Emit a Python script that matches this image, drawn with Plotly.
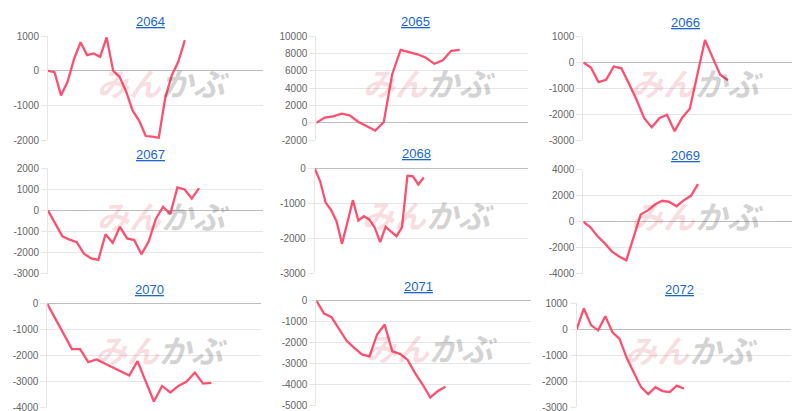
import plotly.graph_objects as go

# ---------------- data ----------------
codes = ["2064", "2065", "2066", "2067", "2068", "2069", "2070", "2071", "2072"]

v2064 = [0, -40, -710, -320, 340, 820, 450, 500, 400, 960, 0, -180, -600, -1150,
         -1440, -1880, -1900, -1930, -780, -130, 260, 880]
v2065 = [0, 600, 750, 1050, 850, 100, -400, -900, 100, 5600, 8400, 8150, 7900,
         7500, 6800, 7200, 8300, 8400]
v2066 = [0, -190, -750, -660, -150, -220, -810, -1430, -2140, -2490, -2140, -2010,
         -2640, -2120, -1780, -450, 870, 190, -470, -680]
v2067 = [0, -580, -1220, -1380, -1500, -2040, -2270, -2340, -1120, -1530, -770,
         -1320, -1400, -2070, -1470, -400, 180, -170, 1100, 1000, 570, 1060]
v2068 = [0, -370, -980, -1190, -1510, -2160, -1540, -910, -1490, -1370, -1460,
         -1690, -2110, -1670, -1810, -1940, -1690, -210, -230, -460, -260]
v2069 = [0, -420, -1120, -1660, -2290, -2660, -2960, -1200, 550, 870, 1320, 1610,
         1520, 1190, 1640, 1990, 2880]
v2070 = [0, -570, -1160, -1750, -1750, -2250, -2150, -2310, -2460, -2620, -2770,
         -2210, -2960, -3770, -3170, -3420, -3170, -3000, -2650, -3080, -3050]
v2071 = [0, -620, -800, -1380, -1920, -2260, -2570, -2660, -1620, -1150, -2420,
         -2540, -2820, -3460, -4000, -4620, -4310, -4110]
v2072 = [0, 800, 160, -40, 500, -120, -370, -1110, -1670, -2230, -2500, -2230,
         -2380, -2420, -2170, -2290]

t2064 = [-2000, -1000, 0, 1000]
t2065 = [-2000, 0, 2000, 4000, 6000, 8000, 10000]
t2066 = [-3000, -2000, -1000, 0, 1000]
t2067 = [-3000, -2000, -1000, 0, 1000, 2000]
t2068 = [-3000, -2000, -1000, 0]
t2069 = [-4000, -2000, 0, 2000, 4000]
t2070 = [-4000, -3000, -2000, -1000, 0]
t2071 = [-5000, -4000, -3000, -2000, -1000, 0]
t2072 = [-3000, -2000, -1000, 0, 1000]

series = [v2064, v2065, v2066, v2067, v2068, v2069, v2070, v2071, v2072]
ticks = [t2064, t2065, t2066, t2067, t2068, t2069, t2070, t2071, t2072]

# ---------------- layout geometry (pixels) ----------------
W, H = 800, 411
# x0, x1, top, bottom, x-axis extent (in point slots), title x, title y
geom = [
    (40.0, 255.0, 22.7, 130.0, 33.0, 142.3, 8.0),
    (308.3, 520.0, 22.7, 130.0, 25.1, 407.3, 7.5),
    (575.3, 788.3, 23.3, 130.3, 28.0, 677.7, 9.0),
    (40.0, 255.0, 159.0, 267.7, 29.9, 142.3, 144.3),
    (306.7, 520.0, 159.0, 267.0, 39.1, 408.3, 144.0),
    (575.3, 788.3, 160.3, 267.7, 29.7, 677.7, 145.7),
    (39.3, 253.3, 298.5, 405.3, 26.1, 141.3, 284.0),
    (308.3, 523.3, 295.0, 403.3, 28.3, 410.7, 281.0),
    (568.7, 783.3, 298.0, 405.0, 30.0, 671.0, 283.3),
]

LINE = "#fd4f6f"
GRID = "#e6e6e6"
ZERO = "#bdbdbd"
TICKFONT = dict(family="Liberation Sans, Arial, sans-serif", size=10, color="#666666")
TITLEBLUE = "#1a66cc"
WM_PINK = "rgba(215,50,65,0.36)"
WM_GRAY = "rgba(80,80,80,0.5)"

fig = go.Figure()
annotations = []
layout = {}

for i, (code, vals, tv, g) in enumerate(zip(codes, series, ticks, geom)):
    x0, x1, top, bot, xr, tx, ty = g
    n = i + 1
    xa = "x" if n == 1 else f"x{n}"
    ya = "y" if n == 1 else f"y{n}"
    xkey = "xaxis" if n == 1 else f"xaxis{n}"
    ykey = "yaxis" if n == 1 else f"yaxis{n}"

    fig.add_trace(go.Scatter(
        x=list(range(len(vals))), y=vals, mode="lines",
        line=dict(color=LINE, width=2.3), xaxis=xa, yaxis=ya,
        showlegend=False, hoverinfo="skip"))

    layout[xkey] = dict(
        domain=[x0 / W, x1 / W], range=[0, xr], anchor=ya,
        showgrid=False, zeroline=False, showticklabels=False, showline=False,
        fixedrange=True)
    layout[ykey] = dict(
        domain=[1 - bot / H, 1 - top / H], range=[min(tv), max(tv)], anchor=xa,
        tickvals=tv, ticktext=[str(v) for v in tv], tickfont=TICKFONT,
        showgrid=True, gridcolor=GRID, gridwidth=1,
        zeroline=True, zerolinecolor=ZERO, zerolinewidth=1,
        showline=True, linecolor=GRID, linewidth=1,
        ticks="outside", ticklen=6, tickcolor=GRID, fixedrange=True)

    # title (link-style, underlined)
    annotations.append(dict(
        xref="paper", yref="paper", x=tx / W, y=1 - ty / H,
        xanchor="center", yanchor="middle", showarrow=False,
        text=f'<span style="text-decoration:underline">{code}</span>',
        font=dict(family="Liberation Sans, Arial, sans-serif", size=13, color=TITLEBLUE)))

    # watermark
    wx = x0 + 0.535 * (x1 - x0)
    wy = top + 0.44 * (bot - top)
    annotations.append(dict(
        xref="paper", yref="paper", x=wx / W, y=1 - wy / H,
        xanchor="center", yanchor="middle", showarrow=False,
        text=(f'<b><i><span style="color:{WM_PINK}">みん</span>'
              f'<span style="color:{WM_GRAY}">かぶ</span></i></b>'),
        font=dict(family="Noto Sans CJK JP", size=32, color=WM_GRAY, weight="bold")))

fig.update_layout(
    width=W, height=H, autosize=False,
    margin=dict(l=0, r=0, t=0, b=0),
    paper_bgcolor="white", plot_bgcolor="white",
    annotations=annotations, **layout)

fig.write_html("out.html", config={"displayModeBar": False})
